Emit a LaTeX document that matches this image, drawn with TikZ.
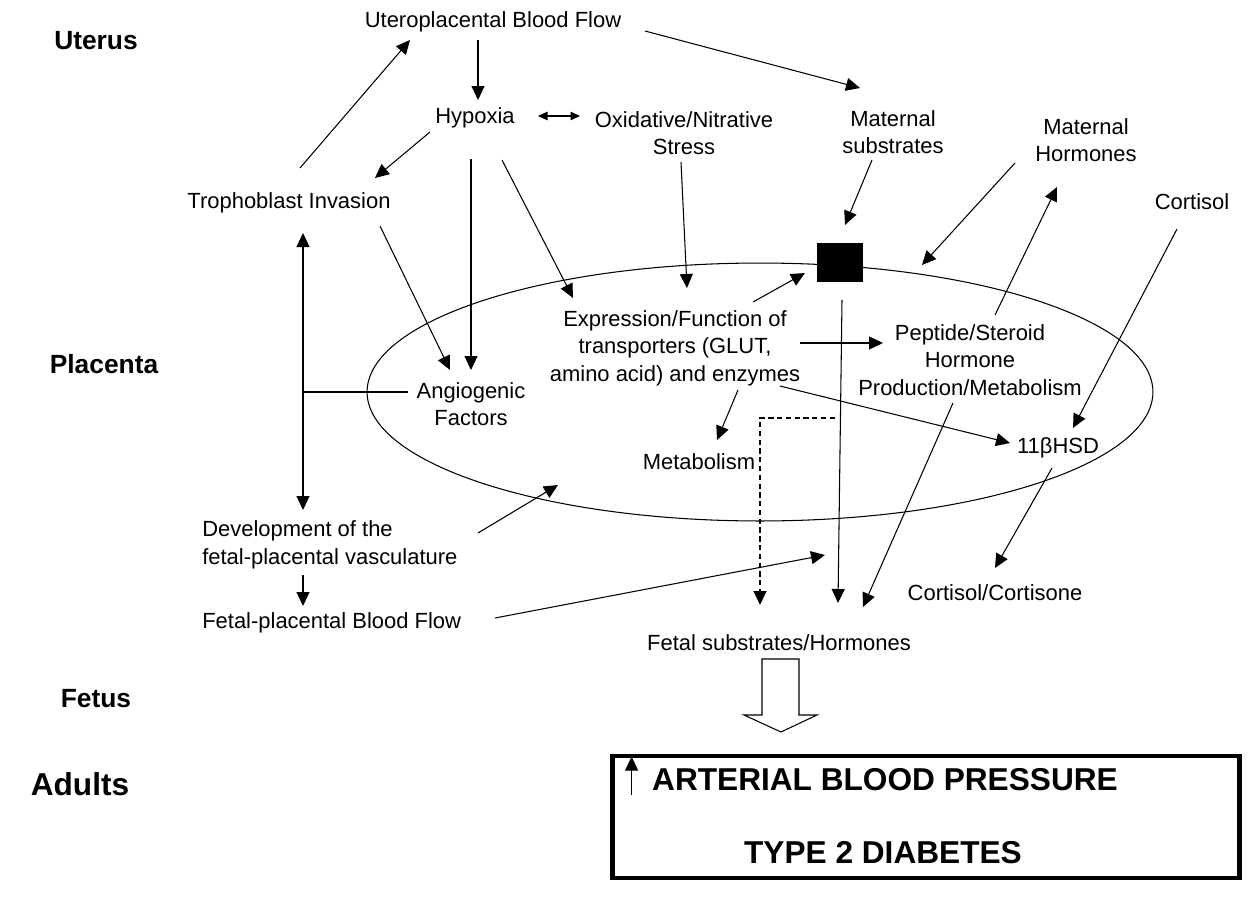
\documentclass[tikz,border=0pt]{standalone}
\usepackage{fontspec}
\setmainfont{Liberation Sans}
\usetikzlibrary{arrows.meta,shapes.geometric}

\begin{document}
\begin{tikzpicture}[x=0.02cm,y=-0.02cm,>={Triangle[length=2.8mm,width=2.6mm]},line width=0.6pt]
        \tikzset{txt/.style={font=\fontsize{12.5}{15.6}\selectfont, align=center, inner sep=1pt},
        zone/.style={font=\bfseries\fontsize{15}{18}\selectfont},
        big/.style={font=\bfseries\fontsize{18}{21}\selectfont},
        tinytip/.style={>={Triangle[length=1.9mm,width=1.7mm]}},
        }
        \useasboundingbox (0,0) rectangle (1248,903);
        \node [zone] (uterus) at (96,41) {Uterus};
        \node [zone] (placenta) at (104,364) {Placenta};
        \node [zone] (fetus) at (96,699) {Fetus};
        \node [zone, font=\bfseries\fontsize{18}{21}\selectfont] (adults) at (80,784) {Adults};
        \node [draw, ellipse, minimum width=15.72cm, minimum height=5.16cm, inner sep=0pt] (plac) at (760,392) {};
        \node [txt] (ubf) at (493,22) {Uteroplacental Blood Flow};
        \node [txt] (hyp) at (475,118) {Hypoxia};
        \node [txt] (oxs) at (684,133) {Oxidative/Nitrative\\Stress};
        \node [txt] (msub) at (893,132) {Maternal\\substrates};
        \node [txt] (mhor) at (1086,140) {Maternal\\Hormones};
        \node [txt] (cort) at (1192,202) {Cortisol};
        \node [txt] (tro) at (289,203) {Trophoblast Invasion};
        \node [fill, minimum width=0.92cm, minimum height=0.78cm, inner sep=0pt] (sq) at (840,262) {};
        \node [txt] (expr) at (675,348) {Expression/Function of\\transporters (GLUT,\\amino acid) and enzymes};
        \node [txt] (pep) at (970,360) {Peptide/Steroid\\Hormone\\Production/Metabolism};
        \node [txt] (ang) at (471,404) {Angiogenic\\Factors};
        \node [txt] (metab) at (699,462) {Metabolism};
        \node [txt] (hsd) at (1058,448) {11βHSD};
        \node [txt, align=left, anchor=west] (dev) at (200,545) {Development of the\\fetal-placental vasculature};
        \node [txt, anchor=west] (fpbf) at (200,623) {Fetal-placental Blood Flow};
        \node [txt] (cc) at (995,593) {Cortisol/Cortisone};
        \node [txt] (fsh) at (779,643) {Fetal substrates/Hormones};
        \node [draw, line width=2.8pt, minimum width=12.56cm, minimum height=2.44cm] (outcome) at (926,817) {};
        \node [big] (abp) at (885,780) {ARTERIAL BLOOD PRESSURE};
        \node [big] (t2d) at (883,853) {TYPE 2 DIABETES};

%% paths
        \path[->] ([shift={(11,-35)}]tro.center) edge ([shift={(-83,18)}]ubf.center)
                    ([shift={(-15,18)}]ubf.center) edge ([shift={(3,-18)}]hyp.center)
                    ([shift={(152,9)}]ubf.center) edge ([shift={(-33,-44)}]msub.center)
                    ([shift={(-45,14)}]hyp.center) edge ([shift={(86,-25)}]tro.center)
                    ([shift={(-4,41)}]hyp.center) edge ([shift={(0,-34)}]ang.center)
                    ([shift={(27,42)}]hyp.center) edge ([shift={(-102,-50)}]expr.center)
                    ([shift={(91,23)}]tro.center) edge ([shift={(-21,-34)}]ang.center)
                    ([shift={(-3,29)}]oxs.center) edge ([shift={(12,-60)}]expr.center)
                    ([shift={(-21,28)}]msub.center) edge ([shift={(5,-37)}]sq.center)
                    ([shift={(-71,23)}]mhor.center) edge ([shift={(162,-127)}]plac.center)
                    ([shift={(78,-46)}]expr.center) edge ([shift={(-35,11)}]sq.center)
                    ([shift={(2,38)}]sq.center) edge ([shift={(59,-40)}]fsh.center)
                    ([shift={(125,-5)}]expr.center) edge ([shift={(-87,-17)}]pep.center)
                    ([shift={(105,38)}]expr.center) edge ([shift={(-48,-5)}]hsd.center)
                    ([shift={(63,42)}]expr.center) edge ([shift={(18,-22)}]metab.center)
                    ([shift={(25,-45)}]pep.center) edge ([shift={(-29,47)}]mhor.center)
                    ([shift={(-17,43)}]pep.center) edge ([shift={(84,-36)}]fsh.center)
                    ([shift={(-15,27)}]cort.center) edge ([shift={(15,-20)}]hsd.center)
                    ([shift={(-6,20)}]hsd.center) edge ([shift={(0,-25)}]cc.center)
                    ([shift={(278,-12)}]dev.west) edge ([shift={(-202,93)}]plac.center)
                    ([shift={(103,30)}]dev.west) edge ([shift={(103,-17)}]fpbf.west)
                    ([shift={(295,-5)}]fpbf.west) edge ([shift={(46,-88)}]fsh.center)
                    ;
        \draw[<->] ([shift={(14,30)}]tro.center) -- ([shift={(103,-35)}]dev.west);
        \draw ([shift={(-63,-12)}]ang.center) -- ([shift={(14,189)}]tro.center);
        \draw[<->, tinytip] ([shift={(63,-2)}]hyp.center) -- ([shift={(-104,-17)}]oxs.center);
        \draw[->, dash pattern=on 3pt off 2pt] ([shift={(-5,156)}]sq.center) -| ([shift={(-19,-38)}]fsh.center);
        \draw (fsh.center) ++(-17,16) -- ++(37,0) -- ++(0,56) -- ++(18,0) -- ++(-36,17) -- ++(-37,-17) -- ++(18,0) -- cycle;
        \draw[->] ([shift={(22,41)}]outcome.north west) -- ([shift={(22,3)}]outcome.north west);
\end{tikzpicture}
\end{document}
